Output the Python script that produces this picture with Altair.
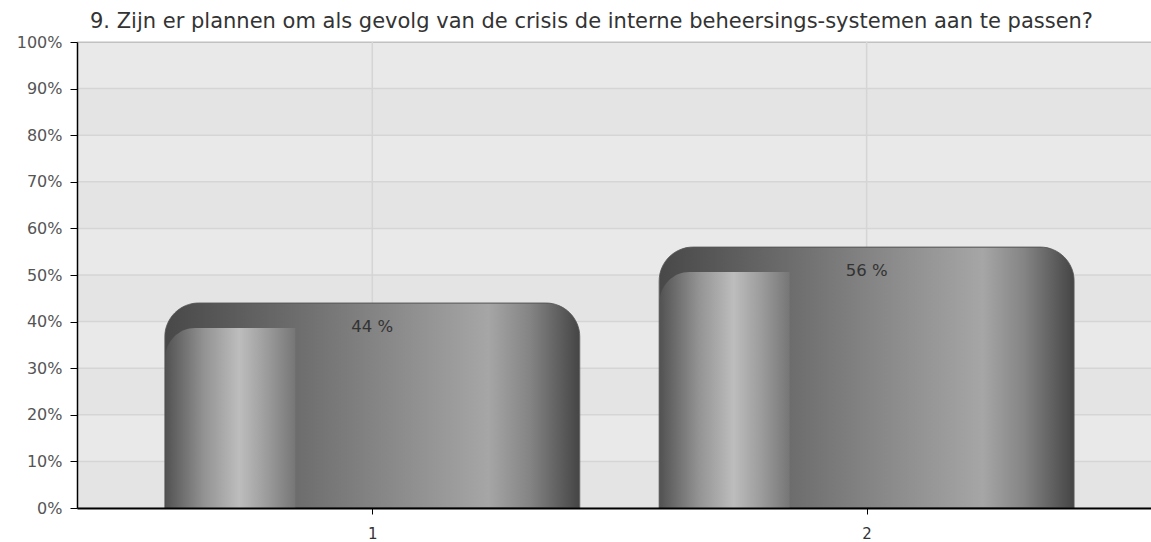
import altair as alt
import pandas as pd

title_text = "9. Zijn er plannen om als gevolg van de crisis de interne beheersings-systemen aan te passen?"
categories = [1, 2]
values = [44, 56]
labels = [f"{v} %" for v in values]
y_ticks = [0, 10, 20, 30, 40, 50, 60, 70, 80, 90, 100]
band_starts = [0, 20, 40, 60, 80]
band_ends = [10, 30, 50, 70, 90]

FONT = "DejaVu Sans"

bars = pd.DataFrame({"cat": categories, "value": values, "label": labels})
grid_df = pd.DataFrame({"t": y_ticks})
bands_df = pd.DataFrame({"y0": band_starts, "y1": band_ends})
vgrid_df = pd.DataFrame({"cat": categories})

xdom = [0.4128, 2.5651]
xscale = alt.Scale(domain=xdom, nice=False, zero=False)
yscale = alt.Scale(domain=[0, 100], nice=False)

main_grad = alt.Gradient(
    gradient="linear", x1=0, y1=0, x2=1, y2=0,
    stops=[
        alt.GradientStop(offset=0.0, color="#484848"),
        alt.GradientStop(offset=0.12, color="#565656"),
        alt.GradientStop(offset=0.31, color="#6c6c6c"),
        alt.GradientStop(offset=0.78, color="#a6a6a6"),
        alt.GradientStop(offset=0.88, color="#848484"),
        alt.GradientStop(offset=1.0, color="#454545"),
    ],
)
front_grad = alt.Gradient(
    gradient="linear", x1=0, y1=0, x2=1, y2=0,
    stops=[
        alt.GradientStop(offset=0.0, color="#525252"),
        alt.GradientStop(offset=0.3, color="#939393"),
        alt.GradientStop(offset=0.57, color="#bdbdbd"),
        alt.GradientStop(offset=0.78, color="#9c9c9c"),
        alt.GradientStop(offset=1.0, color="#767676"),
    ],
)

base = alt.Chart(bars)

bands = alt.Chart(bands_df).mark_rect(color="#e4e4e4").encode(
    y=alt.Y("y0:Q", scale=yscale),
    y2="y1:Q",
)

hgrid = alt.Chart(grid_df).mark_rule(color="#d5d5d5", strokeWidth=1.5).encode(
    y=alt.Y("t:Q", scale=yscale),
)

vgrid = alt.Chart(vgrid_df).mark_rule(color="#d5d5d5", strokeWidth=1.5).encode(
    x=alt.X("cat:Q", scale=xscale),
)

main = base.mark_bar(
    size=415, fill=main_grad, stroke="#555555", strokeWidth=0.8,
    cornerRadiusTopLeft=34, cornerRadiusTopRight=34,
).encode(
    x=alt.X("cat:Q", scale=xscale, axis=alt.Axis(
        values=categories, format="d", title=None, grid=False, zindex=2,
        domainColor="#000000", domainWidth=2, tickColor="#000000",
        tickSize=6, labelFontSize=15, labelColor="#333333",
        labelFont=FONT, labelPadding=12)),
    y=alt.Y("value:Q", scale=yscale, axis=alt.Axis(
        values=y_ticks, labelExpr="datum.value + '%'", title=None,
        grid=False, zindex=2, domainColor="#000000", domainWidth=1.5,
        tickColor="#000000", tickSize=7, labelFontSize=16,
        labelColor="#555555", labelFont=FONT, labelPadding=8)),
)

front = base.mark_bar(
    size=130, xOffset=-142, yOffset=25, y2Offset=0, fill=front_grad,
    cornerRadiusTopLeft=30,
).encode(
    x=alt.X("cat:Q", scale=xscale),
    y=alt.Y("value:Q", scale=yscale),
    y2=alt.datum(0),
)

text = base.mark_text(
    dy=24, fontSize=16.5, color="#333333", font=FONT, baseline="middle",
).encode(
    x=alt.X("cat:Q", scale=xscale),
    y=alt.Y("value:Q", scale=yscale),
    text="label:N",
)

chart = alt.layer(bands, hgrid, vgrid, main, front, text).properties(
    width=1074,
    height=466,
    background="#ffffff",
    padding={"left": 77, "top": 42, "right": 0, "bottom": 34},
    autosize=alt.AutoSizeParams(type="none"),
    title=alt.Title(
        title_text, anchor="start", frame="group", dx=13, offset=2, fontSize=21,
        fontWeight="normal", color="#333333", font=FONT,
    ),
).configure_view(
    fill="#e9e9e9", stroke="#888888", strokeWidth=1,
)

chart.save("out.html", embed_options={"renderer": "svg", "actions": False})
